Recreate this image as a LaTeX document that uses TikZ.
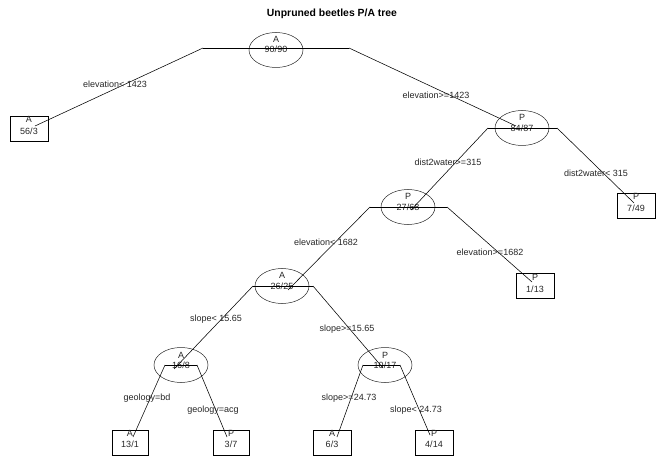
\documentclass[tikz,border=0pt]{standalone}
\usepackage{fontspec}
\setmainfont{Liberation Sans}
\usetikzlibrary{shapes.geometric}
\begin{document}
\begin{tikzpicture}[x=1pt,y=-1pt,
  ell/.style={draw=black!85, line width=0.5pt, ellipse, minimum width=54pt, minimum height=35pt, inner sep=0pt},
  leafbox/.style={draw=black, line width=0.6pt, minimum width=38pt, minimum height=25pt, inner sep=0pt},
  txt/.style={font=\fontsize{9}{10}\selectfont, inner sep=0pt, text=black!85},
  conn/.style={draw=black, line width=0.55pt}]
\useasboundingbox (0,0) rectangle (662,468);
\node[font=\fontsize{10.4}{12}\selectfont\bfseries, inner sep=0pt] (title) at (332,14) {Unpruned beetles P/A tree};

% internal nodes (ellipses)
\node[ell] (e1) at (276,50) {};
\node[txt] (e1a) at (276,39) {A};
\node[txt] (e1b) at (276,49) {90/90};
\node[ell] (e3) at (522,128) {};
\node[txt] (e3a) at (522,117) {P};
\node[txt] (e3b) at (522,128) {84/87};
\node[ell] (e4) at (408,207) {};
\node[txt] (e4a) at (408,196) {P};
\node[txt] (e4b) at (408,207) {27/68};
\node[ell] (e6) at (282,286) {};
\node[txt] (e6a) at (282,275) {A};
\node[txt] (e6b) at (282,286) {26/25};
\node[ell] (e8) at (181,365) {};
\node[txt] (e8a) at (181,355) {A};
\node[txt] (e8b) at (181,365) {16/8};
\node[ell] (e9) at (385,365) {};
\node[txt] (e9a) at (385,355) {P};
\node[txt] (e9b) at (385,365) {10/17};

% leaves (boxes)
\node[leafbox] (b2) at (29,129) {};
\node[txt] (b2a) at (29,119) {A};
\node[txt] (b2b) at (29,131) {56/3};
\node[leafbox] (b5) at (636,206) {};
\node[txt] (b5a) at (636,196) {P};
\node[txt] (b5b) at (636,208) {7/49};
\node[leafbox] (b7) at (535,286) {};
\node[txt] (b7a) at (535,277) {P};
\node[txt] (b7b) at (535,289) {1/13};
\node[leafbox, minimum width=36pt] (b10) at (130,443) {};
\node[txt] (b10a) at (130,433) {A};
\node[txt] (b10b) at (130,444) {13/1};
\node[leafbox, minimum width=36pt] (b11) at (231,443) {};
\node[txt] (b11a) at (231,433) {P};
\node[txt] (b11b) at (231,444) {3/7};
\node[leafbox, minimum width=38pt] (b12) at (332,443) {};
\node[txt] (b12a) at (332,433) {A};
\node[txt] (b12b) at (332,444) {6/3};
\node[leafbox, minimum width=38pt] (b13) at (434,443) {};
\node[txt] (b13a) at (434,433) {P};
\node[txt] (b13b) at (434,444) {4/14};

% split coordinates and attach points
\coordinate (s1L) at (203,48);  \coordinate (s1R) at (349,48);
\coordinate (s3L) at (488,128); \coordinate (s3R) at (557,128);
\coordinate (s4L) at (370,207); \coordinate (s4R) at (447,207);
\coordinate (s6L) at (253,286); \coordinate (s6R) at (313,286);
\coordinate (s8L) at (165,365); \coordinate (s8R) at (197,365);
\coordinate (s9L) at (363,365); \coordinate (s9R) at (400,365);
\coordinate (p2) at (35,126);
\coordinate (p3) at (516,126);
\coordinate (p4) at (411,210);
\coordinate (p5) at (634,203);
\coordinate (p6) at (288,290);
\coordinate (p7) at (532,282);
\coordinate (p8) at (174,369);
\coordinate (p9) at (383,368);
\coordinate (p10) at (133,437);
\coordinate (p11) at (227,437);
\coordinate (p12) at (337,437);
\coordinate (p13) at (430,435);

% connectors
\draw[conn] (s1L) -- (s1R);
\draw[conn] (s1L) -- (p2);
\draw[conn] (s1R) -- (p3);
\draw[conn] (s3L) -- (s3R);
\draw[conn] (s3L) -- (p4);
\draw[conn] (s3R) -- (p5);
\draw[conn] (s4L) -- (s4R);
\draw[conn] (s4L) -- (p6);
\draw[conn] (s4R) -- (p7);
\draw[conn] (s6L) -- (s6R);
\draw[conn] (s6L) -- (p8);
\draw[conn] (s6R) -- (p9);
\draw[conn] (s8L) -- (s8R);
\draw[conn] (s8L) -- (p10);
\draw[conn] (s8R) -- (p11);
\draw[conn] (s9L) -- (s9R);
\draw[conn] (s9L) -- (p12);
\draw[conn] (s9R) -- (p13);

% split labels
\node[txt] (l2) at (115,84) {elevation< 1423};
\node[txt] (l3) at (436,95) {elevation>=1423};
\node[txt] (l4) at (448,162) {dist2water>=315};
\node[txt] (l5) at (596,173) {dist2water< 315};
\node[txt] (l6) at (326,242) {elevation< 1682};
\node[txt] (l7) at (490,252) {elevation>=1682};
\node[txt] (l8) at (216,319) {slope< 15.65};
\node[txt] (l9) at (347,329) {slope>=15.65};
\node[txt] (l10) at (147,398) {geology=bd};
\node[txt] (l11) at (213,410) {geology=acg};
\node[txt] (l12) at (349,398) {slope>=24.73};
\node[txt] (l13) at (416,410) {slope< 24.73};
\end{tikzpicture}
\end{document}
